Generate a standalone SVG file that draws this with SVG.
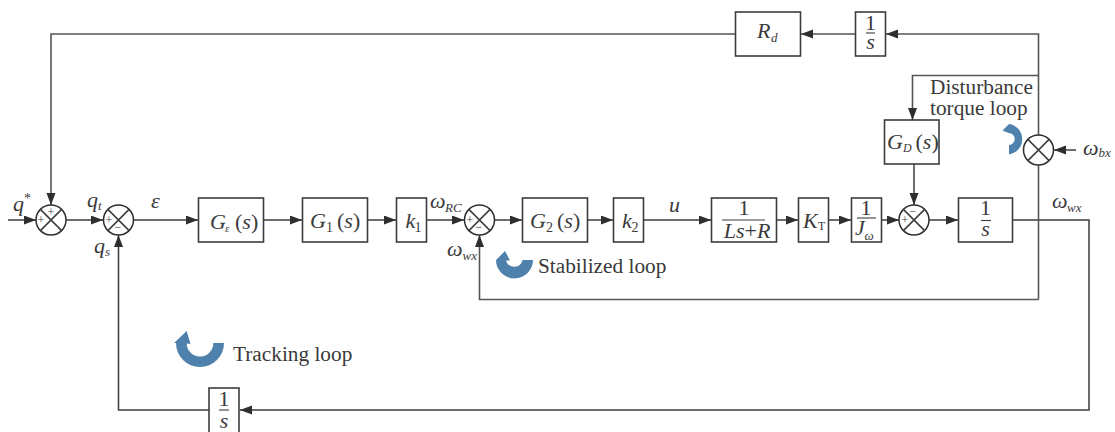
<svg xmlns="http://www.w3.org/2000/svg" width="1115" height="432" viewBox="0 0 1115 432">
<style>
text{font-family:"Liberation Serif","Times New Roman",serif;fill:#3a3a3a}
.b{fill:#fff;stroke:#3c3c3c;stroke-width:1.6}
.l{fill:none;stroke:#3c3c3c;stroke-width:1.5}
.u{fill:none;stroke:#555;stroke-width:1.6}
.s{fill:#fff;stroke:#2e2e2e;stroke-width:1.5}
.i{font-style:italic;font-size:22px}
.n{font-size:14px}
.one{font-size:22px;text-anchor:middle}
.c{font-style:italic;font-size:22px;text-anchor:middle}
.sub{font-style:italic;font-size:13px}
.t{font-size:21.300px}
.sg{font-size:12px;text-anchor:middle}
.bar{stroke:#3c3c3c;stroke-width:1.1}
.blue{fill:#4f81ad}
.r{font-style:normal}
</style>
<defs>
<marker id="a" markerWidth="13" markerHeight="10" refX="12" refY="4.5" orient="auto" markerUnits="userSpaceOnUse"><path d="M0 0L12 4.5L0 9Z" fill="#2e2e2e"/></marker>
<g id="sum"><circle r="15" class="s"/><path d="M-10.600-10.600L10.600 10.600M-10.600 10.600L10.600-10.600" class="l"/></g>
</defs>
<g id="connectors">
<path class="l" d="M8 220H36" marker-end="url(#a)"/>
<path class="l" d="M66 220H103" marker-end="url(#a)"/>
<path class="l" d="M133 220H198" marker-end="url(#a)"/>
<path class="l" d="M264 220H302" marker-end="url(#a)"/>
<path class="l" d="M368 220H396" marker-end="url(#a)"/>
<path class="l" d="M427 220H464" marker-end="url(#a)"/>
<path class="l" d="M494 220H522" marker-end="url(#a)"/>
<path class="l" d="M587 220H613" marker-end="url(#a)"/>
<path class="l" d="M644 220H711" marker-end="url(#a)"/>
<path class="l" d="M777 220H798" marker-end="url(#a)"/>
<path class="l" d="M828 220H851" marker-end="url(#a)"/>
<path class="l" d="M882 220H899" marker-end="url(#a)"/>
<path class="l" d="M929 220H958" marker-end="url(#a)"/>
<path class="l" d="M1013 220H1089V410H240" marker-end="url(#a)"/>
<path class="l" d="M209 410H118.500V235" marker-end="url(#a)"/>
<path class="u" d="M1038.500 299.500H479.500V235" marker-end="url(#a)"/>
<path class="u" d="M1038.500 299.500V165"/>
<path class="u" d="M1038.500 135V34H886" marker-end="url(#a)"/>
<path class="u" d="M855 34H801" marker-end="url(#a)"/>
<path class="u" d="M735 34H51V205" marker-end="url(#a)"/>
<path class="u" d="M1038.500 75.500H912.500V120" marker-end="url(#a)"/>
<path class="l" d="M914 164V205" marker-end="url(#a)"/>
<path class="l" d="M1076 150H1054" marker-end="url(#a)"/>
</g>
<g id="sum1"><use href="#sum" x="51" y="220"/><text class="sg" x="51" y="216">+</text><text class="sg" x="41" y="224">+</text></g>
<g id="sum2"><use href="#sum" x="118.500" y="220"/><text class="sg" x="109" y="224">+</text><text class="sg" x="118" y="231">−</text></g>
<g id="sum3"><use href="#sum" x="479.500" y="220"/><text class="sg" x="470" y="224">+</text><text class="sg" x="479" y="231">−</text></g>
<g id="sum4"><use href="#sum" x="914" y="220"/><text class="sg" x="905" y="224">+</text><text class="sg" x="913" y="215">−</text></g>
<g id="sum5"><use href="#sum" x="1038.500" y="150"/></g>
<g id="G-eps"><rect class="b" x="198.500" y="198" width="65" height="44"/><text class="i" x="210" y="229">G</text><text class="sub" x="225" y="232" style="font-size:11px">ε</text><text class="i" x="235" y="229"><tspan class="r">(</tspan>s<tspan class="r">)</tspan></text></g>
<g id="G1"><rect class="b" x="302.500" y="198" width="65" height="44"/><text class="i" x="310" y="228">G</text><text class="n" x="326" y="232">1</text><text class="i" x="337" y="228"><tspan class="r">(</tspan>s<tspan class="r">)</tspan></text></g>
<g id="k1"><rect class="b" x="396.500" y="198" width="30" height="44"/><text class="i" x="405.500" y="228">k</text><text class="n" x="414.500" y="232">1</text></g>
<g id="G2"><rect class="b" x="522.500" y="198" width="65" height="44"/><text class="i" x="530" y="228">G</text><text class="n" x="546" y="232">2</text><text class="i" x="557" y="228"><tspan class="r">(</tspan>s<tspan class="r">)</tspan></text></g>
<g id="k2"><rect class="b" x="613.500" y="198" width="30" height="44"/><text class="i" x="622" y="228">k</text><text class="n" x="631.500" y="232">2</text></g>
<g id="Ls-R"><rect class="b" x="711.500" y="198" width="65" height="44"/><text class="one" x="744" y="215">1</text><line class="bar" x1="722" x2="765" y1="220" y2="220"/><text class="c" x="747" y="238">Ls<tspan class="r">+</tspan>R</text></g>
<g id="KT"><rect class="b" x="798.500" y="198" width="30" height="44"/><text class="i" x="803" y="228">K</text><text class="n" x="818" y="230" style="font-size:12px">T</text></g>
<g id="J"><rect class="b" x="851.500" y="198" width="30" height="44"/><text class="one" x="866" y="215">1</text><line class="bar" x1="857" x2="876" y1="218" y2="218"/><text class="i" x="855" y="235">J</text><text class="sub" x="864.500" y="240">ω</text></g>
<g id="int"><rect class="b" x="958.500" y="198" width="54" height="44"/><text class="one" x="985.500" y="215">1</text><line class="bar" x1="981" x2="991" y1="220.500" y2="220.500"/><text class="c" x="985.500" y="236">s</text></g>
<g id="GD"><rect class="b" x="884.500" y="120" width="54.500" height="44"/><text class="i" x="887" y="149">G</text><text class="sub" x="903" y="152" style="font-size:12px">D</text><text class="i" x="915.500" y="149"><tspan class="r">(</tspan>s<tspan class="r">)</tspan></text></g>
<g id="Rd"><rect class="b" x="735.500" y="12" width="65" height="44"/><text class="i" x="757" y="38">R</text><text class="sub" x="771" y="42">d</text></g>
<g id="int-top"><rect class="b" x="855.500" y="12" width="30" height="44"/><text class="one" x="870.500" y="30">1</text><line class="bar" x1="866" x2="875" y1="33" y2="33"/><text class="c" x="870.500" y="49">s</text></g>
<g id="int-bottom"><rect class="b" x="209" y="388" width="30" height="46"/><text class="one" x="224" y="406">1</text><line class="bar" x1="219" x2="229" y1="410" y2="410"/><text class="c" x="224" y="428">s</text></g>
<g id="labels">
<text class="i" x="13" y="211">q</text><text class="n" x="24" y="203">*</text>
<text class="i" x="87" y="207">q</text><text class="sub" x="98" y="210">t</text>
<text class="i" x="94" y="253">q</text><text class="sub" x="105" y="256">s</text>
<text class="i" x="151" y="208">ε</text>
<text class="i" x="430" y="208">ω</text><text class="sub" x="445" y="212">RC</text>
<text class="i" x="447" y="256">ω</text><text class="sub" x="462.500" y="260">wx</text>
<text class="i" x="669" y="212">u</text>
<text class="i" x="1052" y="208">ω</text><text class="sub" x="1067" y="212">wx</text>
<text class="i" x="1083" y="155">ω</text><text class="sub" x="1098.500" y="157">bx</text>
<text class="t" x="538" y="273">Stabilized loop</text>
<text class="t" x="233" y="361">Tracking loop</text>
<text class="t" x="930" y="94">Disturbance</text>
<text class="t" x="930" y="115">torque loop</text>
</g>
<g id="loop-arrows">
<path class="blue" d="M224 343A24 24 0 0 1 176 343L174 343L186.700 331L190.500 344L186.700 343.500A13.300 13.300 0 0 0 213.300 343Z"/>
<path class="blue" d="M533 260A18.500 18.500 0 0 1 496 260L505 251L510 260.500L506 260.500A8.500 8.500 0 0 0 522.500 260Z"/>
<path class="blue" d="M1009 124A15.300 15.300 0 0 1 1009 154.300V145A6 6 0 0 0 1008.500 133L1002.500 130.500Z"/>
</g>
</svg>
